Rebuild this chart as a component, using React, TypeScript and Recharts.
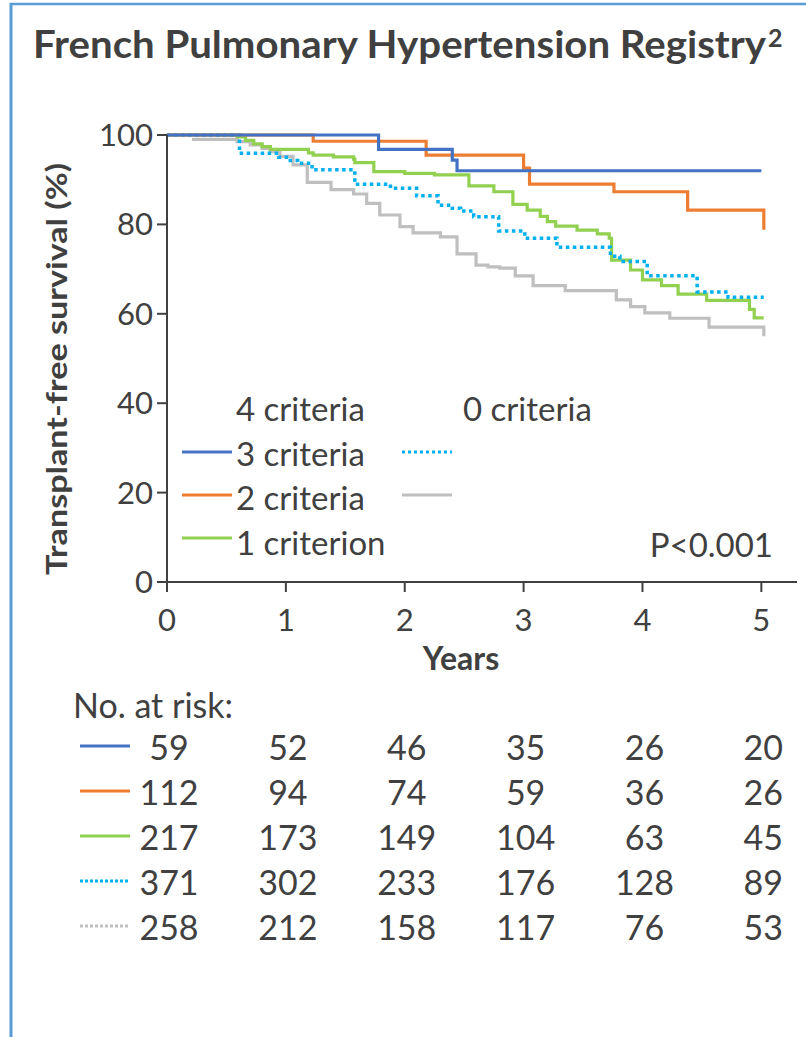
import React from 'react';
import { LineChart, Line, XAxis, YAxis } from 'recharts';

const FONT = 'Lato, "Open Sans", sans-serif';
const TXT = '#404040';

// Kaplan–Meier change points: [years, survival %]
const threeCriteria = [
  [0, 100], [1.78, 96.8], [2.4, 94.4], [2.44, 92.0], [5.0, 92.0],
];
const twoCriteria = [
  [0, 100], [1.23, 98.6], [2.18, 95.5], [3.0, 92.6], [3.05, 89.0],
  [3.76, 87.3], [4.38, 83.2], [5.02, 83.2], [5.021, 78.8],
];
const oneCriterion = [
  [0, 100], [0.59, 99.6], [0.66, 98.8], [0.73, 98.0], [0.8, 97.4], [0.87, 96.8],
  [1.19, 96.0], [1.23, 95.5], [1.4, 95.1], [1.57, 94.6], [1.58, 93.8],
  [1.74, 91.8], [2.0, 91.4], [2.25, 91.1], [2.54, 88.6], [2.75, 87.3],
  [2.91, 84.5], [3.03, 83.2], [3.14, 81.8], [3.2, 80.6], [3.27, 79.6],
  [3.45, 78.7], [3.62, 77.9], [3.72, 76.9], [3.74, 72.0], [3.9, 69.8],
  [4.0, 67.6], [4.16, 66.3], [4.3, 64.4], [4.54, 63.0], [4.9, 61.0],
  [4.94, 59.1], [5.02, 59.1],
];
const zeroCriteriaDotted = [
  [0, 100], [0.61, 95.9], [0.94, 95.0], [1.02, 94.3], [1.1, 93.7], [1.22, 92.2],
  [1.58, 89.0], [1.88, 88.1], [2.1, 86.4], [2.28, 84.3], [2.4, 83.6],
  [2.47, 83.0], [2.58, 81.7], [2.79, 78.5], [3.01, 76.9], [3.28, 74.9],
  [3.73, 72.9], [3.81, 71.7], [4.04, 68.5], [4.46, 64.9], [4.72, 63.7],
  [5.02, 63.7],
];
const greySeries = [
  [0.21, 99.0], [0.59, 98.5], [0.7, 97.8], [0.8, 97.0], [0.87, 96.3],
  [0.95, 95.2], [1.06, 93.3], [1.18, 89.4], [1.38, 87.8], [1.57, 86.8],
  [1.68, 84.7], [1.79, 82.1], [1.96, 79.5], [2.07, 78.1], [2.3, 77.2],
  [2.44, 73.4], [2.6, 70.9], [2.7, 70.5], [2.8, 70.2], [2.93, 68.5],
  [3.08, 66.3], [3.35, 65.2], [3.78, 63.1], [3.9, 61.6], [4.02, 60.2],
  [4.23, 59.0], [4.56, 57.0], [5.02, 57.0], [5.021, 55.0],
];

const xTicks = [0, 1, 2, 3, 4, 5];
const yTicks = [0, 20, 40, 60, 80, 100];

const atRiskBlue = [59, 52, 46, 35, 26, 20];
const atRiskOrange = [112, 94, 74, 59, 36, 26];
const atRiskGreen = [217, 173, 149, 104, 63, 45];
const atRiskCyan = [371, 302, 233, 176, 128, 89];
const atRiskGrey = [258, 212, 158, 117, 76, 53];

const legendLeft = ['4 criteria', '3 criteria', '2 criteria', '1 criterion'];
const legendRight = ['0 criteria'];

const toPts = (arr: number[][]) => arr.map(([t, s]) => ({ t, s }));

const BLUE = '#4472C4';
const ORANGE = '#ED7D31';
const GREEN = '#92D050';
const CYAN = '#00B0F0';
const GREY = '#BFBFBF';
const FRAME = '#5B9BD5';

const W = 806;
const H = 1037;
const PLOT_LEFT = 167;
const X_MAX = 5.3;
const PLOT_RIGHT = 797;
const pxPerYear = (PLOT_RIGHT - PLOT_LEFT) / X_MAX;

const tableRows = [
  { values: atRiskBlue, color: BLUE, dash: undefined as string | undefined },
  { values: atRiskOrange, color: ORANGE, dash: undefined },
  { values: atRiskGreen, color: GREEN, dash: undefined },
  { values: atRiskCyan, color: CYAN, dash: '3 2' },
  { values: atRiskGrey, color: GREY, dash: '3 2' },
];

export default function App() {
  return (
    <div style={{ position: 'absolute', left: 0, top: 0, width: W, height: H, background: '#fff' }}>
      <div style={{ position: 'absolute', left: 0, top: 0 }}>
        <LineChart width={W} height={700} margin={{ top: 135, right: W - PLOT_RIGHT, bottom: 0, left: 0 }}>
          <XAxis
            dataKey="t"
            type="number"
            domain={[0, X_MAX]}
            ticks={xTicks}
            allowDataOverflow
            height={118}
            axisLine={{ stroke: TXT, strokeWidth: 2 }}
            tickLine={{ stroke: TXT, strokeWidth: 2 }}
            tickSize={10}
            tickMargin={17}
            tick={{ fill: TXT, fontSize: 31, fontFamily: FONT }}
          />
          <YAxis
            type="number"
            domain={[0, 100]}
            ticks={yTicks}
            width={PLOT_LEFT}
            axisLine={{ stroke: TXT, strokeWidth: 2 }}
            tickLine={{ stroke: TXT, strokeWidth: 2 }}
            tickSize={10}
            tickMargin={4}
            tick={{ fill: TXT, fontSize: 31, fontFamily: FONT }}
          />
          <Line data={toPts(greySeries)} dataKey="s" type="stepAfter" stroke={GREY} strokeWidth={3.2} dot={false} isAnimationActive={false} />
          <Line data={toPts(oneCriterion)} dataKey="s" type="stepAfter" stroke={GREEN} strokeWidth={3.2} dot={false} isAnimationActive={false} />
          <Line data={toPts(zeroCriteriaDotted)} dataKey="s" type="stepAfter" stroke={CYAN} strokeWidth={3.5} strokeDasharray="3.5 3.5" dot={false} isAnimationActive={false} />
          <Line data={toPts(twoCriteria)} dataKey="s" type="stepAfter" stroke={ORANGE} strokeWidth={3.2} dot={false} isAnimationActive={false} />
          <Line data={toPts(threeCriteria)} dataKey="s" type="stepAfter" stroke={BLUE} strokeWidth={3.2} dot={false} isAnimationActive={false} />
        </LineChart>
      </div>
      <svg width={W} height={H} style={{ position: 'absolute', left: 0, top: 0, pointerEvents: 'none' }} fontFamily={FONT}>
        <line x1={10} y1={4} x2={W} y2={4} stroke={FRAME} strokeWidth={2.5} />
        <line x1={11} y1={3} x2={11} y2={H} stroke={FRAME} strokeWidth={3} />
        <text x={33} y={58} fontSize={38} fontWeight={700} fill={TXT} textLength={733} lengthAdjust="spacingAndGlyphs">
          French Pulmonary Hypertension Registry
        </text>
        <text x={768} y={47} fontSize={25} fontWeight={700} fill={TXT}>2</text>
        <text
          transform="translate(67,369) rotate(-90)"
          textAnchor="middle"
          fontSize={28}
          fontWeight={700}
          fill={TXT}
          textLength={412}
          lengthAdjust="spacingAndGlyphs"
        >
          Transplant-free survival (%)
        </text>
        <text x={461} y={670} textAnchor="middle" fontSize={32} fontWeight={700} fill={TXT}>Years</text>

        {legendLeft.map((s, i) => (
          <text key={s} x={236} y={421 + i * 44.7} fontSize={33} fill={TXT}>{s}</text>
        ))}
        {legendRight.map((s) => (
          <text key={s} x={463} y={421} fontSize={33} fill={TXT}>{s}</text>
        ))}
        <line x1={182} y1={452} x2={232} y2={452} stroke={BLUE} strokeWidth={3} />
        <line x1={182} y1={495} x2={232} y2={495} stroke={ORANGE} strokeWidth={3} />
        <line x1={182} y1={538} x2={232} y2={538} stroke={GREEN} strokeWidth={3} />
        <line x1={402} y1={452} x2={452} y2={452} stroke={CYAN} strokeWidth={3} strokeDasharray="3 3" />
        <line x1={402} y1={495} x2={452} y2={495} stroke={GREY} strokeWidth={3} />
        <text x={773} y={557} textAnchor="end" fontSize={33} fill={TXT}>P&lt;0.001</text>

        <text x={73} y={718} fontSize={34} fill={TXT}>No. at risk:</text>
        {tableRows.map((row, r) => (
          <g key={r}>
            <line x1={80} y1={746 + r * 45} x2={130} y2={746 + r * 45} stroke={row.color} strokeWidth={3} strokeDasharray={row.dash} />
            {row.values.map((v, c) => (
              <text key={c} x={PLOT_LEFT + 2 + xTicks[c] * pxPerYear} y={760 + r * 45} textAnchor="middle" fontSize={34} fill={TXT}>
                {v}
              </text>
            ))}
          </g>
        ))}
      </svg>
    </div>
  );
}
